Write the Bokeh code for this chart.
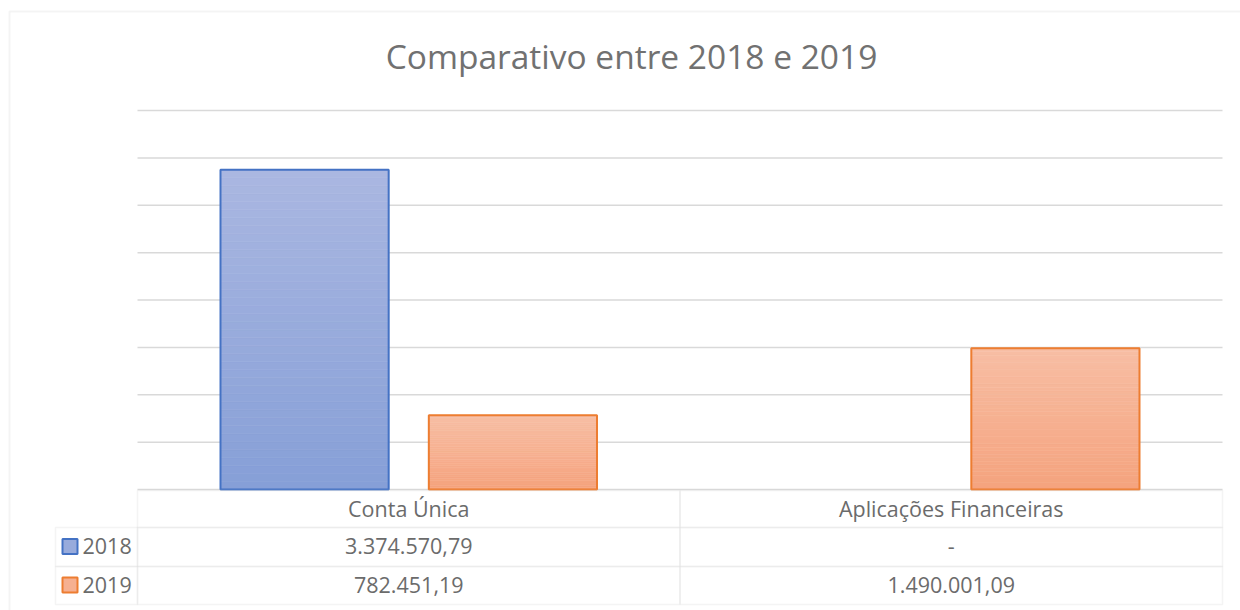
from bokeh.plotting import figure
from bokeh.models import Range1d, ColumnDataSource, Label, BoxAnnotation
from bokeh.embed import file_html
from bokeh.resources import INLINE

# ---------------- data ----------------
title_text = "Comparativo entre 2018 e 2019"
categories = ["Conta Única", "Aplicações Financeiras"]
series_names = ["2018", "2019"]
values_2018 = [3374570.79, 0.0]
values_2019 = [782451.19, 1490001.09]
y_max = 4000000
y_step = 500000

# ---------------- styles ----------------
FONT = "Open Sans"
TEXT_COLOR = "#6b6b6b"
TITLE_COLOR = "#717171"
GRID_COLOR = "#D9D9D9"
series_styles = {
    "2018": dict(top="#AAB7E1", bottom="#869FD7", line="#4472C4", offset=-0.192),
    "2019": dict(top="#F7BEA4", bottom="#F5A37E", line="#ED7D31", offset=0.192),
}
BAR_W = 0.31
N_SLICES = 40

W, H = 1240, 610
FL, FR, FT, FB = 137, 1222, 110, 489   # plot-area edges in page pixels
n_cat = len(categories)
cat_w = (FR - FL) / n_cat
ppu = (FB - FT) / y_max


def sx(px):
    return px


def sy(py):
    return H - py


def lerp(c1, c2, t):
    a = [int(c1[i:i + 2], 16) for i in (1, 3, 5)]
    b = [int(c2[i:i + 2], 16) for i in (1, 3, 5)]
    return "#%02x%02x%02x" % tuple(round(a[j] + (b[j] - a[j]) * t) for j in range(3))


def br(v):
    if v == 0:
        return "-"
    s = f"{v:,.2f}"
    return s.replace(",", "X").replace(".", ",").replace("X", ".")


p = figure(width=W, height=H,
           x_range=Range1d(-FL / cat_w, (W - FL) / cat_w),
           y_range=Range1d(-(H - FB) / ppu, y_max + FT / ppu),
           x_axis_type=None, y_axis_type=None,
           output_backend="svg", toolbar_location=None, min_border=0)
p.outline_line_color = None
p.background_fill_color = "white"
p.border_fill_color = "white"
p.xgrid.visible = False
p.ygrid.visible = False

# horizontal gridlines across the plot area
ticks = list(range(0, y_max + 1, y_step))
p.segment(x0=[0] * len(ticks), x1=[n_cat] * len(ticks), y0=ticks, y1=ticks,
          line_color=GRID_COLOR, line_width=1.5)

series_values = {"2018": values_2018, "2019": values_2019}
for name in series_names:
    st = series_styles[name]
    vals = series_values[name]
    xs, tops, bots, cols = [], [], [], []
    for i, v in enumerate(vals):
        if v <= 0:
            continue
        for k in range(N_SLICES):
            xs.append(i + 0.5 + st["offset"])
            bots.append(v * k / N_SLICES)
            tops.append(v * (k + 1) / N_SLICES)
            cols.append(lerp(st["bottom"], st["top"], (k + 0.5) / N_SLICES))
    src = ColumnDataSource(dict(x=xs, top=tops, bottom=bots, color=cols))
    p.vbar(x="x", top="top", bottom="bottom", width=BAR_W,
           fill_color="color", line_color="color", line_width=0.6, source=src)
    ox = [i + 0.5 + st["offset"] for i, v in enumerate(vals) if v > 0]
    ov = [v for v in vals if v > 0]
    p.vbar(x=ox, top=ov, width=BAR_W, fill_alpha=0,
           line_color=st["line"], line_width=2)

# ---------------- title ----------------
p.add_layout(Label(x=sx(631), y=sy(55), x_units="screen", y_units="screen",
                   text=title_text, text_align="center", text_baseline="middle",
                   text_font=FONT, text_font_size="33.5px", text_color=TITLE_COLOR))

# ---------------- outer chart border ----------------
p.add_layout(BoxAnnotation(left=sx(9), right=sx(W + 20), top=sy(11), bottom=sy(H + 20),
                           left_units="screen", right_units="screen",
                           top_units="screen", bottom_units="screen",
                           fill_alpha=0, line_color=GRID_COLOR, line_width=2))

# ---------------- data table ----------------
row_edges = [490, 527, 566, 604]
LEG_L = 55


def cell(l, r, t, b):
    p.add_layout(BoxAnnotation(left=sx(l), right=sx(r), top=sy(t), bottom=sy(b),
                               left_units="screen", right_units="screen",
                               top_units="screen", bottom_units="screen",
                               fill_alpha=0, line_color=GRID_COLOR, line_width=1.5))


def text(x, y, s, align="center"):
    p.add_layout(Label(x=sx(x), y=sy(y), x_units="screen", y_units="screen",
                       text=s, text_align=align, text_baseline="middle",
                       text_font=FONT, text_font_size="21.5px", text_color=TEXT_COLOR))


for i, cat in enumerate(categories):
    l = FL + i * cat_w
    cell(l, l + cat_w, row_edges[0], row_edges[1])
    text(l + cat_w / 2, (row_edges[0] + row_edges[1]) / 2 - 1, cat)

for r, name in enumerate(series_names):
    t, b = row_edges[r + 1], row_edges[r + 2]
    cy = (t + b) / 2 - 1
    cell(LEG_L, FL, t, b)
    st = series_styles[name]
    p.add_layout(BoxAnnotation(left=sx(62), right=sx(77), top=sy(cy - 7), bottom=sy(cy + 8),
                               left_units="screen", right_units="screen",
                               top_units="screen", bottom_units="screen",
                               fill_color=lerp(st["bottom"], st["top"], 0.5), fill_alpha=1,
                               line_color=st["line"], line_width=2, line_alpha=1))
    text(82, cy, name, align="left")
    for i, cat in enumerate(categories):
        l = FL + i * cat_w
        cell(l, l + cat_w, t, b)
        text(l + cat_w / 2, cy, br(series_values[name][i]))

open("out.html", "w").write(file_html(p, INLINE))
